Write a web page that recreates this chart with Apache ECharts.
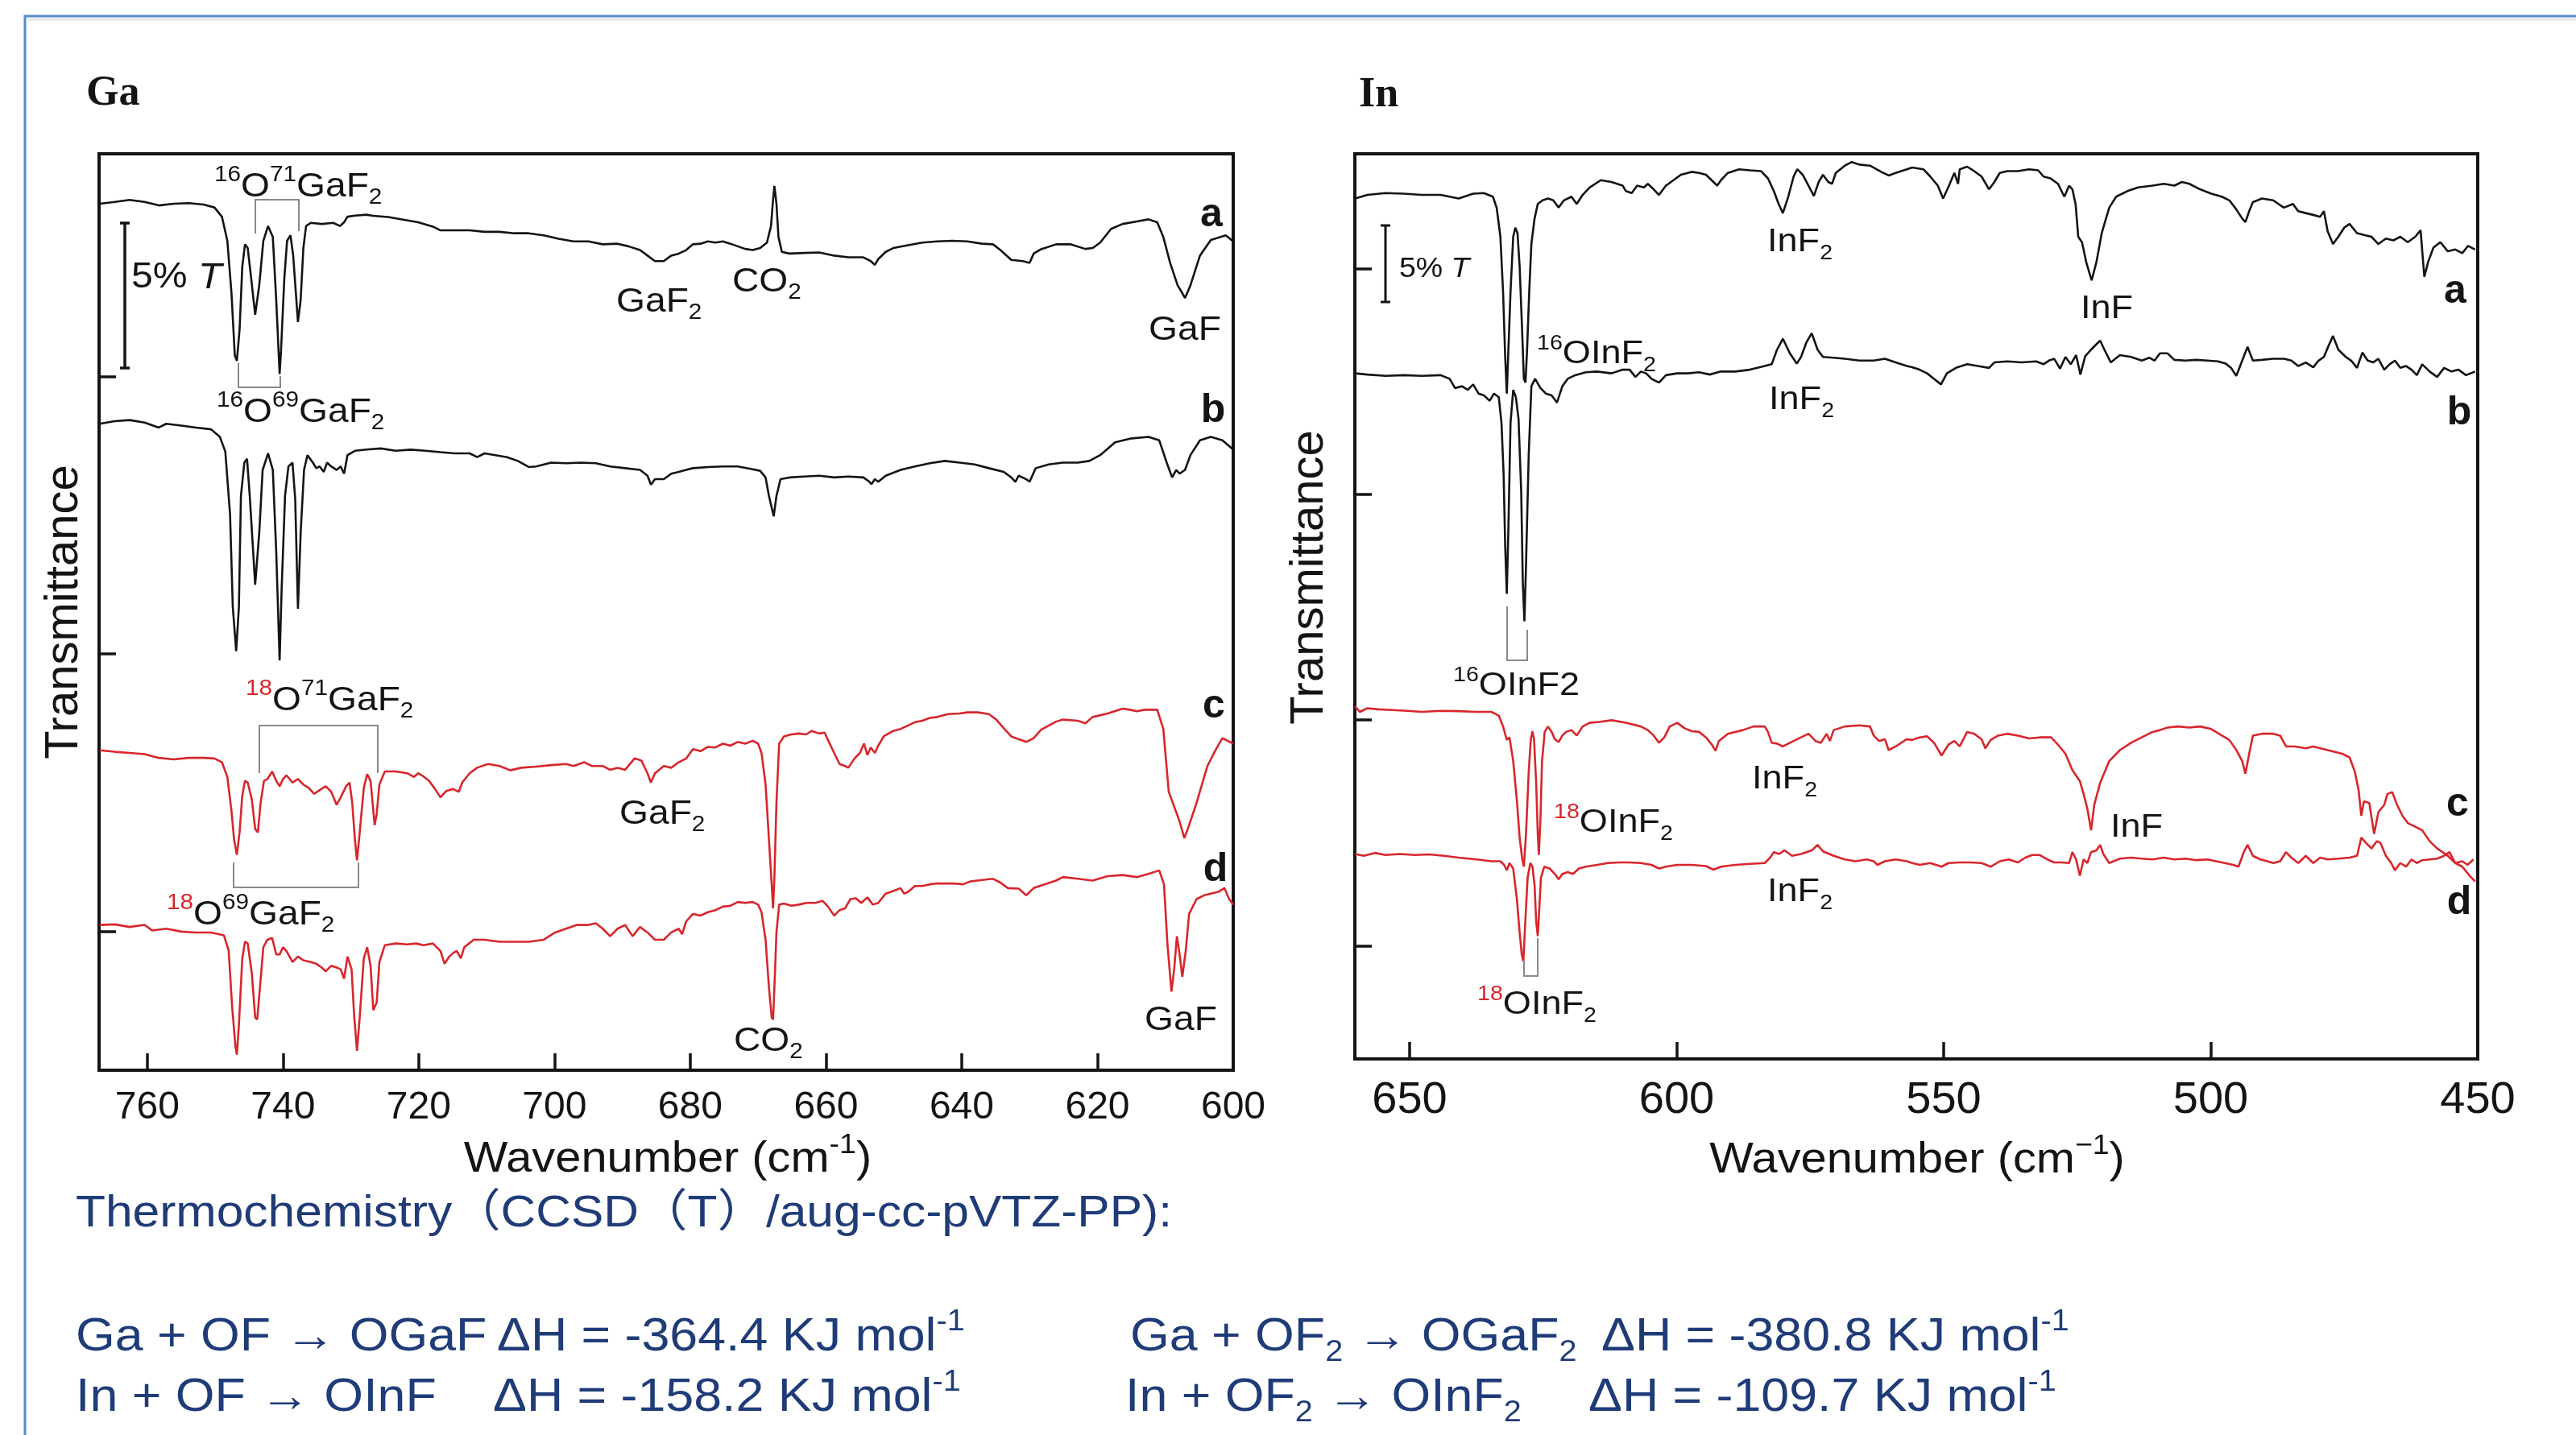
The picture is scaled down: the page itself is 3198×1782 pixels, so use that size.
<!DOCTYPE html>
<html><head><meta charset="utf-8">
<script src="https://cdn.jsdelivr.net/npm/echarts@6/dist/echarts.min.js"></script>
<style>html,body{margin:0;padding:0;background:#fff;}#c{width:3198px;height:1782px;}</style>
</head><body><div id="c"></div>
<script>
// ---------- DATA (wavenumber cm-1, transmittance %T, offset per trace) ----------
const gaXTicks = [600,620,640,660,680,700,720,740,760];
const inXTicks = [450,500,550,600,650];
const gaYTicks = [4.78,14.35,23.92];
const inYTicks = [7.43,22.35,37.24,52.12];

const gaA = [[767.0,29.88],[764.8,29.94],[762.6,30.01],[760.4,29.94],[758.3,29.82],[756.1,29.88],[753.9,29.90],[751.7,29.85],[750.1,29.75],[749.0,29.43],[748.2,28.60],[747.6,26.82],[747.1,24.65],[746.8,24.46],[746.4,25.54],[746.0,27.71],[745.6,28.48],[745.2,28.35],[744.7,27.33],[744.1,26.05],[743.5,27.07],[742.9,28.60],[742.2,29.11],[741.5,28.73],[741.0,26.56],[740.5,24.01],[740.3,24.78],[739.8,27.33],[739.4,28.60],[738.9,28.79],[738.5,28.09],[737.8,25.80],[737.4,26.56],[737.0,28.35],[736.6,29.11],[735.9,29.22],[734.3,29.18],[732.6,29.22],[731.6,29.11],[731.0,29.24],[730.5,29.43],[729.4,29.47],[727.7,29.50],[726.7,29.46],[724.5,29.42],[721.8,29.31],[720.1,29.24],[717.9,29.09],[716.8,28.96],[714.7,28.96],[712.5,28.96],[710.3,28.91],[708.1,28.91],[705.9,28.86],[703.8,28.86],[701.6,28.79],[699.4,28.67],[697.2,28.58],[695.0,28.58],[692.9,28.48],[690.7,28.50],[689.1,28.41],[687.4,28.28],[686.3,28.09],[685.2,27.90],[683.9,27.90],[682.8,28.09],[681.7,28.16],[680.6,28.28],[679.6,28.48],[678.5,28.50],[677.4,28.58],[676.3,28.54],[675.2,28.58],[674.1,28.50],[673.0,28.41],[671.9,28.32],[670.8,28.28],[669.7,28.35],[668.7,28.54],[668.1,29.11],[667.8,30.01],[667.6,30.49],[667.3,29.88],[667.0,28.73],[666.5,28.22],[665.4,28.16],[663.2,28.18],[661.0,28.20],[658.8,28.09],[656.7,28.03],[654.5,28.03],[653.4,27.90],[652.8,27.77],[652.3,27.97],[651.2,28.22],[650.1,28.35],[647.9,28.45],[645.8,28.54],[643.6,28.58],[641.4,28.60],[639.2,28.58],[637.0,28.50],[635.4,28.48],[634.3,28.28],[632.7,27.94],[631.0,27.90],[630.0,27.84],[629.4,28.16],[628.3,28.31],[626.1,28.48],[624.0,28.48],[621.8,28.32],[620.7,28.35],[619.6,28.54],[618.0,29.01],[616.3,29.18],[614.2,29.27],[612.5,29.34],[611.2,29.24],[610.3,28.73],[609.3,27.84],[608.2,27.07],[607.1,26.63],[606.3,27.07],[604.9,28.09],[603.3,28.63],[601.1,28.79],[600.0,28.58]];

const gaB = [[767.0,22.29],[764.8,22.38],[762.6,22.42],[760.4,22.33],[758.3,22.16],[757.2,22.29],[755.0,22.23],[752.8,22.16],[750.6,22.10],[749.3,21.84],[748.5,21.33],[747.8,19.16],[747.4,15.98],[746.9,14.45],[746.5,15.98],[746.2,19.80],[745.7,20.95],[745.3,21.08],[744.9,19.80],[744.1,16.74],[743.5,18.53],[743.0,20.70],[742.2,21.27],[741.5,20.70],[741.0,17.89],[740.5,14.13],[740.2,16.61],[739.7,19.80],[739.2,20.82],[738.6,20.95],[738.2,19.68],[737.8,15.91],[737.4,18.53],[736.9,20.70],[736.4,21.21],[735.6,20.95],[735.1,20.76],[734.6,20.82],[734.0,20.63],[733.5,20.95],[732.9,20.82],[732.1,20.70],[731.5,20.82],[731.0,20.57],[730.5,21.21],[729.4,21.36],[727.7,21.40],[725.6,21.44],[723.4,21.36],[721.2,21.40],[719.0,21.36],[716.8,21.31],[714.7,21.27],[712.5,21.27],[711.4,21.14],[710.3,21.27],[708.7,21.21],[707.0,21.14],[705.4,21.01],[703.8,20.80],[702.7,20.82],[700.5,20.95],[698.3,20.93],[696.1,20.95],[693.9,20.93],[691.8,20.82],[689.6,20.76],[687.4,20.70],[686.3,20.50],[685.8,20.19],[685.2,20.38],[683.9,20.38],[682.8,20.57],[681.7,20.63],[680.6,20.70],[679.6,20.76],[677.4,20.80],[675.2,20.82],[673.0,20.82],[670.8,20.72],[669.7,20.67],[668.9,20.44],[668.4,19.80],[667.7,19.10],[667.3,19.80],[666.7,20.38],[665.4,20.44],[663.2,20.47],[661.0,20.50],[658.8,20.44],[656.7,20.47],[654.5,20.44],[653.7,20.31],[653.3,20.21],[652.8,20.38],[652.3,20.29],[651.2,20.50],[649.0,20.70],[646.9,20.82],[644.7,20.93],[642.5,21.01],[640.3,20.95],[638.1,20.89],[636.0,20.76],[633.8,20.63],[632.7,20.44],[632.1,20.29],[631.6,20.50],[630.5,20.38],[630.0,20.29],[629.1,20.76],[627.2,20.89],[625.1,20.95],[622.9,20.95],[621.2,21.01],[619.6,21.21],[617.4,21.65],[615.2,21.78],[612.5,21.84],[610.9,21.72],[609.8,20.95],[609.0,20.44],[608.4,20.70],[607.9,20.57],[607.1,20.70],[606.3,21.21],[604.9,21.72],[603.3,21.84],[601.6,21.72],[600.0,21.40]];

const gaC = [[767.0,11.03],[764.8,10.98],[762.6,10.94],[760.4,10.90],[758.3,10.77],[756.1,10.72],[753.9,10.77],[751.7,10.77],[750.1,10.75],[749.0,10.62],[748.2,10.11],[747.6,8.96],[747.2,7.94],[746.8,7.43],[746.4,8.20],[746.0,9.47],[745.6,9.98],[745.2,9.92],[744.6,9.34],[744.1,8.32],[743.7,8.20],[743.3,9.22],[742.8,9.98],[742.3,10.04],[741.6,10.30],[741.0,9.98],[740.5,9.79],[740.0,10.04],[739.5,10.17],[738.6,9.92],[737.8,10.04],[737.0,9.85],[736.2,9.73],[735.4,9.53],[734.6,9.66],[733.7,9.79],[732.9,9.60],[732.1,9.15],[731.5,9.41],[730.7,9.79],[730.2,9.92],[729.8,9.22],[729.4,7.94],[729.1,7.24],[728.7,8.20],[728.1,9.73],[727.6,10.21],[727.1,9.98],[726.5,8.45],[726.2,8.83],[725.8,9.85],[725.0,10.30],[723.4,10.30],[721.7,10.24],[720.7,10.11],[720.1,10.24],[719.3,10.13],[718.5,9.98],[717.7,9.73],[716.8,9.41],[716.0,9.62],[715.0,9.70],[714.1,9.60],[713.6,9.92],[712.5,10.24],[711.4,10.43],[709.8,10.56],[708.1,10.49],[706.5,10.34],[704.9,10.43],[702.7,10.47],[700.5,10.52],[698.3,10.56],[697.2,10.49],[695.6,10.62],[694.5,10.49],[692.9,10.49],[691.8,10.36],[690.7,10.43],[689.6,10.36],[688.2,10.75],[687.2,10.68],[686.3,10.24],[685.8,9.92],[685.2,10.24],[683.9,10.49],[682.8,10.43],[681.7,10.62],[680.6,10.75],[679.6,11.07],[678.5,11.00],[677.4,11.15],[676.3,11.13],[675.2,11.26],[674.1,11.19],[673.0,11.32],[671.9,11.26],[670.8,11.36],[670.0,11.26],[669.5,10.94],[668.9,9.85],[668.4,7.94],[668.0,6.41],[667.8,5.58],[667.6,6.66],[667.3,9.22],[666.9,11.26],[666.2,11.51],[665.1,11.58],[664.0,11.61],[662.9,11.58],[662.1,11.70],[661.0,11.61],[660.2,11.64],[659.7,11.38],[658.8,10.94],[658.0,10.56],[657.2,10.49],[656.7,10.43],[655.8,10.75],[655.0,10.94],[654.4,11.26],[653.9,10.87],[653.4,11.13],[652.8,10.94],[652.3,11.19],[651.5,11.51],[650.1,11.70],[649.0,11.77],[647.9,11.89],[646.9,12.00],[645.8,12.05],[644.7,12.15],[643.6,12.18],[642.0,12.28],[640.3,12.30],[639.2,12.34],[637.6,12.34],[636.0,12.28],[634.9,12.09],[633.8,11.79],[632.7,11.51],[631.6,11.41],[630.5,11.32],[629.4,11.45],[628.3,11.74],[626.1,12.02],[625.1,12.09],[622.9,12.05],[621.8,11.96],[620.7,12.18],[618.5,12.30],[616.3,12.47],[615.2,12.43],[614.2,12.38],[613.1,12.43],[611.2,12.43],[610.3,11.77],[609.5,9.60],[608.7,9.09],[607.9,8.58],[607.2,8.00],[606.5,8.45],[605.4,9.22],[603.8,10.49],[602.7,11.00],[601.6,11.45],[600.0,11.26]];

const gaD = [[767.0,5.01],[764.8,5.03],[762.6,4.94],[760.4,5.01],[759.3,4.82],[757.2,4.88],[755.0,4.78],[752.8,4.75],[750.6,4.75],[748.7,4.65],[748.0,4.11],[747.5,2.20],[747.0,0.80],[746.8,0.54],[746.5,1.56],[746.0,3.86],[745.6,4.43],[745.2,4.37],[744.6,3.35],[744.1,1.82],[743.8,1.75],[743.4,2.84],[742.9,4.24],[742.3,4.50],[741.6,4.56],[741.0,3.99],[740.5,3.99],[740.0,4.24],[739.5,4.11],[738.6,3.73],[737.8,3.92],[737.0,3.79],[735.9,3.73],[735.1,3.67],[734.3,3.54],[733.7,3.41],[732.9,3.60],[732.1,3.54],[731.5,3.48],[731.0,3.16],[730.5,3.92],[729.9,3.48],[729.5,1.82],[729.1,0.67],[728.7,1.82],[728.1,3.86],[727.6,4.24],[727.1,3.60],[726.7,2.07],[726.2,2.33],[725.8,3.73],[725.0,4.31],[723.4,4.37],[721.7,4.34],[720.4,4.37],[719.3,4.31],[717.9,4.37],[716.8,4.11],[716.2,3.67],[715.5,3.92],[714.9,4.05],[714.4,4.11],[713.8,3.86],[713.3,4.24],[711.9,4.50],[710.3,4.50],[708.1,4.43],[705.9,4.43],[703.8,4.43],[701.6,4.50],[699.9,4.75],[698.3,4.88],[696.7,5.01],[695.0,5.01],[693.9,5.07],[692.9,4.88],[691.8,4.62],[690.7,4.88],[689.6,5.01],[688.5,4.62],[687.4,4.94],[686.3,4.75],[685.2,4.50],[683.9,4.50],[682.8,4.75],[681.7,4.88],[681.2,4.69],[680.6,5.13],[679.6,5.39],[678.5,5.33],[677.4,5.45],[676.3,5.52],[675.2,5.64],[674.1,5.67],[673.0,5.80],[671.9,5.77],[670.8,5.80],[670.0,5.71],[669.5,5.45],[668.9,4.50],[668.4,2.84],[668.0,1.82],[667.8,1.75],[667.6,2.84],[667.3,4.75],[666.9,5.71],[666.2,5.75],[665.1,5.67],[664.0,5.71],[662.9,5.77],[661.6,5.77],[660.5,5.84],[659.7,5.64],[658.8,5.33],[658.0,5.52],[657.2,5.58],[656.4,5.90],[655.6,5.93],[654.8,5.77],[653.9,5.96],[653.1,5.71],[652.3,5.77],[651.2,6.09],[650.1,6.18],[649.0,6.28],[648.5,6.09],[647.9,6.15],[646.9,6.35],[645.8,6.35],[644.7,6.41],[643.6,6.44],[641.4,6.44],[639.8,6.41],[638.7,6.51],[637.0,6.56],[635.4,6.60],[634.3,6.47],[633.2,6.28],[631.6,6.26],[630.5,6.03],[629.4,6.28],[627.8,6.41],[626.1,6.54],[625.1,6.66],[622.9,6.60],[620.7,6.54],[618.5,6.69],[616.3,6.73],[614.2,6.66],[612.5,6.77],[610.9,6.89],[610.2,6.41],[609.7,4.37],[609.1,2.71],[608.7,3.48],[608.3,4.62],[607.9,3.99],[607.5,3.22],[607.0,4.11],[606.5,5.39],[605.4,5.90],[604.3,6.03],[603.3,6.09],[602.2,6.15],[601.3,6.28],[600.6,5.90],[600.0,5.71]];

const inA = [[660.2,56.75],[657.9,56.99],[654.5,57.11],[651.1,57.07],[647.7,56.99],[644.2,56.99],[640.8,56.75],[638.1,57.07],[636.1,57.11],[634.4,56.87],[633.7,56.15],[633.0,54.23],[632.5,50.62],[632.1,46.30],[631.8,43.89],[631.6,45.82],[631.1,50.62],[630.6,54.23],[630.2,54.83],[629.8,54.47],[629.4,52.31],[629.0,48.70],[628.6,44.86],[628.3,44.61],[628.0,46.78],[627.6,50.62],[627.2,53.75],[626.6,55.43],[626.0,56.39],[625.1,56.63],[624.1,56.75],[623.1,56.63],[622.1,56.15],[621.1,56.63],[619.7,56.87],[618.7,56.39],[617.6,56.99],[616.3,57.48],[614.2,57.96],[612.2,57.84],[610.1,57.60],[609.5,57.24],[608.4,57.11],[607.4,57.60],[606.1,57.48],[605.4,57.72],[604.3,57.36],[603.3,56.99],[602.0,57.60],[600.6,57.96],[599.2,58.32],[597.2,58.51],[595.8,58.44],[594.5,58.32],[593.1,57.84],[592.4,57.60],[591.7,57.96],[590.4,58.44],[588.3,58.68],[586.3,58.61],[584.2,58.56],[582.9,58.08],[581.8,57.24],[580.9,56.39],[580.1,55.79],[579.1,56.87],[578.1,58.20],[577.4,58.68],[576.4,58.32],[575.3,57.60],[574.3,56.92],[573.4,57.84],[572.6,58.32],[571.6,57.84],[570.9,57.72],[570.2,58.44],[568.5,58.92],[567.2,59.16],[565.8,58.99],[563.8,58.92],[561.7,58.51],[560.3,58.27],[559.0,58.44],[556.9,58.68],[555.9,58.80],[553.8,58.68],[552.5,58.20],[551.1,57.60],[550.1,56.75],[549.0,57.60],[548.0,58.44],[547.3,57.72],[547.0,58.68],[545.6,58.85],[544.3,58.56],[542.9,58.20],[541.5,57.36],[540.5,57.84],[539.5,58.44],[538.1,58.56],[536.1,58.56],[534.0,58.68],[532.3,58.61],[531.3,58.20],[530.0,58.08],[528.6,57.72],[527.4,56.87],[526.5,57.60],[525.9,57.36],[525.3,56.39],[524.8,54.23],[524.1,53.87],[523.3,52.55],[522.3,51.35],[521.4,52.55],[520.4,54.47],[519.0,56.15],[517.7,56.87],[515.6,57.24],[513.6,57.48],[510.9,57.60],[508.8,57.72],[506.8,57.60],[505.4,57.84],[504.0,57.72],[502.0,57.36],[499.9,57.07],[497.9,56.87],[496.5,56.63],[495.2,56.03],[494.1,55.43],[493.5,55.19],[492.8,55.91],[492.1,56.51],[490.4,56.75],[488.3,56.63],[486.3,56.15],[484.6,56.39],[483.6,55.91],[482.2,55.79],[480.8,55.67],[479.5,55.55],[478.8,55.91],[478.1,54.59],[477.1,53.75],[476.1,54.23],[475.0,54.83],[474.0,55.07],[472.6,54.47],[471.3,54.35],[469.9,54.23],[468.6,53.75],[467.2,54.11],[465.8,53.99],[464.5,54.23],[463.1,53.87],[461.7,54.23],[460.7,54.66],[460.0,51.59],[459.3,52.55],[458.3,53.51],[457.0,53.87],[455.6,53.27],[454.2,53.39],[452.9,53.15],[451.8,53.63],[450.5,53.39]];

const inB = [[660.2,45.22],[657.9,45.14],[654.5,45.05],[651.1,45.10],[647.7,45.05],[644.2,45.10],[642.5,44.86],[641.5,44.25],[640.2,44.37],[639.1,44.13],[638.1,44.49],[637.1,43.89],[636.1,43.77],[635.0,43.41],[634.2,43.89],[633.3,43.65],[632.8,41.97],[632.4,38.61],[632.1,33.80],[631.8,30.67],[631.5,35.00],[631.1,41.97],[630.6,44.13],[630.1,43.65],[629.6,42.21],[629.1,37.40],[628.8,31.39],[628.5,28.87],[628.2,32.60],[627.7,39.81],[627.2,44.37],[626.5,44.86],[625.5,44.25],[624.5,43.89],[623.4,43.77],[622.4,43.29],[621.4,44.37],[620.4,44.86],[619.0,45.10],[617.0,45.29],[614.9,45.34],[612.2,45.22],[610.1,45.46],[608.8,45.46],[607.7,44.98],[606.7,45.34],[605.7,45.22],[604.7,44.86],[603.3,44.61],[602.0,45.10],[599.9,45.22],[597.9,45.22],[595.8,45.29],[593.8,45.14],[591.7,45.34],[589.0,45.34],[586.3,45.46],[583.5,45.70],[582.2,45.82],[581.2,46.78],[580.1,47.50],[578.8,46.54],[577.5,45.86],[576.7,46.30],[575.7,47.26],[574.7,47.86],[573.6,46.78],[572.6,46.30],[570.6,46.25],[568.5,46.18],[565.8,46.06],[563.1,46.06],[561.0,46.18],[559.0,45.94],[556.9,45.70],[555.9,45.62],[554.5,45.46],[553.1,45.22],[551.8,44.86],[550.5,44.49],[549.4,45.22],[547.7,45.58],[545.6,45.82],[543.6,45.70],[541.5,45.58],[540.5,45.94],[538.1,46.01],[535.4,45.94],[532.7,46.01],[531.3,45.82],[530.3,46.06],[529.3,46.18],[528.2,45.53],[527.2,46.30],[526.2,45.82],[525.2,46.42],[524.4,45.14],[523.5,46.35],[522.4,46.78],[521.4,47.14],[520.7,47.38],[519.9,46.78],[518.7,45.94],[517.0,46.42],[514.9,46.30],[512.9,46.06],[511.5,46.25],[510.5,46.06],[509.5,46.54],[508.1,46.54],[506.8,46.11],[504.7,46.06],[502.7,46.11],[500.6,46.06],[498.6,46.01],[497.2,45.86],[496.2,45.58],[495.2,45.05],[494.1,46.06],[493.1,46.97],[492.1,46.06],[490.4,46.11],[488.3,46.18],[486.3,46.18],[484.9,46.06],[483.6,45.70],[482.2,45.94],[480.8,45.62],[479.8,46.06],[478.8,46.30],[478.1,46.90],[477.1,47.69],[476.1,46.78],[474.7,46.30],[473.7,46.06],[472.6,45.58],[471.6,46.59],[470.6,46.06],[469.6,45.94],[468.6,46.18],[467.5,45.46],[466.5,45.82],[465.5,46.06],[464.5,45.58],[463.4,45.70],[462.4,45.46],[461.4,45.10],[460.4,45.82],[459.0,45.34],[457.6,44.98],[456.3,45.58],[454.9,45.34],[453.6,45.46],[452.2,45.10],[450.5,45.34]];

const inC = [[660.2,23.25],[659.3,22.89],[657.9,23.13],[655.8,23.06],[653.1,23.01],[650.4,22.96],[647.7,22.89],[644.2,22.96],[640.8,22.94],[637.4,22.89],[634.7,22.89],[633.3,22.65],[632.5,21.93],[631.8,21.04],[631.3,21.21],[630.6,19.65],[629.9,17.00],[629.4,14.60],[628.9,13.16],[628.6,12.68],[628.2,14.84],[627.7,18.93],[627.3,21.09],[627.0,21.62],[626.7,21.09],[626.3,18.21],[626.0,14.84],[625.8,13.45],[625.5,15.80],[625.2,19.65],[624.7,21.57],[624.1,21.93],[623.4,21.57],[622.8,21.09],[622.1,20.90],[621.4,21.33],[620.7,21.57],[619.7,21.69],[618.7,21.33],[617.6,21.93],[616.3,22.17],[614.2,22.24],[612.2,22.34],[609.5,22.17],[606.7,21.93],[605.4,21.69],[604.3,21.33],[603.3,20.85],[602.3,21.21],[601.3,21.93],[599.9,22.17],[598.5,21.81],[597.2,21.62],[595.8,21.57],[594.5,21.21],[593.4,20.73],[592.7,20.32],[592.1,20.97],[590.4,21.45],[587.6,21.69],[585.6,21.93],[583.5,21.93],[582.9,21.57],[582.2,20.85],[581.2,20.80],[580.1,20.61],[578.8,20.85],[577.4,21.09],[575.3,21.45],[574.0,20.97],[573.0,20.85],[571.9,21.45],[571.3,20.97],[570.6,21.69],[568.5,21.93],[565.8,22.00],[563.8,21.93],[563.1,21.33],[562.1,20.97],[561.0,21.09],[560.3,20.37],[559.0,20.61],[556.9,21.09],[555.9,21.04],[554.5,21.21],[553.1,21.28],[551.8,20.85],[550.4,20.01],[549.1,20.73],[548.0,20.97],[547.0,20.61],[545.6,21.57],[544.3,21.45],[542.9,21.09],[542.2,20.49],[541.2,21.04],[539.8,21.33],[538.1,21.45],[536.1,21.33],[534.0,21.14],[532.0,21.21],[529.9,21.21],[528.6,20.73],[527.2,20.13],[525.9,19.05],[524.5,18.33],[523.8,17.48],[523.1,16.52],[522.4,15.08],[521.8,16.76],[520.7,18.21],[519.0,19.65],[517.0,20.37],[514.9,20.85],[512.9,21.21],[510.9,21.57],[509.5,21.69],[508.1,21.86],[506.1,21.93],[504.0,21.86],[502.0,21.93],[499.9,21.76],[497.9,21.33],[496.5,21.04],[495.2,20.37],[494.1,19.65],[493.5,18.81],[492.8,20.13],[492.1,21.33],[490.4,21.45],[488.3,21.45],[487.0,21.33],[485.9,20.61],[484.2,20.61],[482.2,20.49],[480.8,20.61],[478.1,20.37],[475.4,20.13],[474.0,19.89],[473.0,18.93],[472.3,17.72],[471.8,16.04],[471.3,17.00],[470.3,16.88],[469.4,14.84],[468.6,16.28],[467.5,16.76],[466.9,17.48],[466.0,17.60],[465.1,16.76],[464.1,16.04],[463.1,15.56],[461.7,15.32],[460.4,15.08],[459.0,14.36],[457.6,13.88],[456.6,13.64],[455.6,13.40],[454.2,12.92],[452.9,12.68],[451.5,12.08],[450.5,11.71]];

const inD = [[660.2,13.52],[658.6,13.40],[656.5,13.59],[654.5,13.45],[651.8,13.52],[649.0,13.45],[646.3,13.49],[643.6,13.40],[640.8,13.28],[637.4,13.16],[634.7,13.04],[633.0,13.04],[632.3,12.80],[631.8,12.44],[631.3,12.92],[630.6,12.56],[629.9,10.51],[629.4,8.35],[629.0,6.91],[628.7,6.43],[628.4,8.59],[627.9,11.96],[627.4,12.92],[627.0,12.68],[626.6,11.47],[626.3,9.07],[626.0,8.11],[625.7,10.03],[625.4,11.96],[624.8,12.68],[623.8,12.56],[622.8,12.20],[622.1,11.84],[621.4,12.20],[620.4,12.32],[619.4,12.20],[618.3,12.56],[617.0,12.68],[614.9,12.80],[612.9,12.92],[610.8,12.96],[608.8,12.96],[606.7,12.92],[604.7,12.80],[603.3,12.56],[602.0,12.68],[599.9,12.80],[597.2,12.80],[594.5,12.72],[593.1,12.48],[591.7,12.68],[589.0,12.80],[586.3,12.87],[583.5,12.92],[582.5,13.28],[581.8,13.64],[580.8,13.52],[579.8,13.76],[578.4,13.40],[576.7,13.52],[574.7,13.76],[573.6,14.12],[572.6,13.69],[570.6,13.40],[568.5,13.16],[566.5,13.04],[564.4,13.16],[563.1,13.04],[562.4,12.80],[561.0,13.04],[559.0,13.16],[556.9,13.04],[555.9,12.92],[554.5,12.80],[552.5,12.92],[550.4,12.68],[549.1,12.92],[547.0,12.96],[545.0,12.96],[542.9,12.92],[541.2,12.68],[539.5,13.04],[537.8,13.16],[536.1,12.96],[534.7,13.28],[533.4,13.45],[532.0,13.45],[530.6,13.16],[529.3,12.96],[527.9,12.96],[526.5,12.92],[525.9,13.64],[525.2,13.16],[524.5,12.08],[523.8,13.16],[523.1,12.92],[522.4,13.64],[521.4,13.76],[520.7,14.12],[520.1,13.52],[519.0,12.92],[517.0,13.21],[514.9,13.28],[512.9,13.21],[510.9,13.16],[508.8,13.28],[506.8,13.16],[504.7,13.21],[502.7,13.11],[500.6,13.16],[497.9,12.96],[495.8,12.80],[494.8,12.68],[493.8,13.64],[493.1,14.12],[492.1,13.40],[490.7,13.16],[489.4,13.04],[488.3,12.92],[487.0,13.04],[485.9,13.64],[484.9,13.28],[483.6,12.92],[482.2,13.40],[480.8,12.92],[479.5,13.28],[478.1,13.16],[476.1,13.21],[474.0,13.28],[472.6,13.40],[471.8,14.60],[470.9,14.24],[469.9,13.88],[468.9,14.36],[468.2,14.24],[467.2,13.40],[466.2,12.92],[465.5,12.44],[464.5,12.92],[463.4,12.68],[462.4,13.16],[461.4,12.92],[460.4,13.11],[459.0,13.16],[457.6,13.21],[456.3,13.40],[455.3,13.64],[454.2,12.92],[452.9,13.04],[451.9,12.80],[450.8,13.16]];

// ---------- STYLE ----------
const SANS = '"Liberation Sans", Arial, "Noto Sans CJK SC", sans-serif';
const SERIF = '"Liberation Serif", "Times New Roman", serif';
const INK = '#141414';
const RED = '#d8262c';
const NAVY = '#1f3b78';

function rt(x, y, text, o) {
  o = o || {};
  const fs = o.size || 42;
  const ss = Math.round(fs * 0.64);
  const col = o.color || INK;
  const lh = Math.round(fs * 1.3);
  return {
    type: 'text', x: x, y: y, scaleX: o.sx || 1, rotation: o.rot || 0, z: 100, silent: true,
    style: {
      text: text, fill: col,
      font: (o.weight || 'normal') + ' ' + fs + 'px ' + (o.family || SANS),
      lineHeight: lh,
      align: o.align || 'left', verticalAlign: 'middle',
      textAlign: o.align || 'left', textVerticalAlign: 'middle',
      rich: {
        sup: {fontSize: ss, fontFamily: o.family || SANS, verticalAlign: 'top', lineHeight: ss + 2, fill: col, color: col},
        sub: {fontSize: ss, fontFamily: o.family || SANS, verticalAlign: 'bottom', lineHeight: ss + 2, fill: col, color: col},
        rs: {fontSize: ss, fontFamily: o.family || SANS, verticalAlign: 'top', lineHeight: ss + 2, fill: RED, color: RED},
        it: {fontSize: fs, fontFamily: o.family || SANS, fontStyle: 'italic', lineHeight: lh, fill: col, color: col}
      }
    }
  };
}
function pl(points, color, w) {
  return {type: 'polyline', z: 90, silent: true, shape: {points: points}, style: {stroke: color, lineWidth: w, fill: null}};
}

const ga = {size: 42, sx: 1.1};
const inn = {size: 41, sx: 1.1};
const bold = (x, y, t) => rt(x, y, t, {size: 50, weight: 'bold', align: 'center'});
const thermo = (x, y, t) => rt(x, y, t, {size: 57, sx: 1.1, color: NAVY});

const elements = [
  // slide frame
  pl([[31, 1782], [31, 20], [3198, 20]], '#5b89c9', 3),
  pl([[34, 24], [3198, 24]], '#e2e6ec', 3),
  // panel titles
  rt(107, 117, 'Ga', {size: 52, weight: 'bold', family: SERIF}),
  rt(1687, 119, 'In', {size: 52, weight: 'bold', family: SERIF}),
  // y titles
  rt(80, 760, 'Transmittance', {size: 58, align: 'center', rot: Math.PI / 2}),
  rt(1626, 717, 'Transmittance', {size: 58, align: 'center', rot: Math.PI / 2}),
  // x titles
  rt(829, 1440, 'Wavenumber (cm{sup|-1})', {size: 54, sx: 1.07, align: 'center'}),
  rt(2380, 1441, 'Wavenumber (cm{sup|\u22121})', {size: 54, sx: 1.07, align: 'center'}),
  // scale bars
  pl([[155, 277], [155, 457]], INK, 3.5), pl([[149, 277], [161, 277]], INK, 3.5), pl([[149, 457], [161, 457]], INK, 3.5),
  rt(163, 345, '5% {it|T}', {size: 45, sx: 1.07}),
  pl([[1720, 280], [1720, 375]], INK, 3), pl([[1714, 280], [1726, 280]], INK, 3), pl([[1714, 375], [1726, 375]], INK, 3),
  rt(1737, 334, '5% {it|T}', {size: 35, sx: 1.07}),
  // Ga brackets
  pl([[317, 290], [317, 248], [371, 248], [371, 287]], '#8a8a8a', 2),
  pl([[296, 451], [296, 481], [348, 481], [348, 467]], '#8a8a8a', 2),
  pl([[322, 960], [322, 901], [469, 901], [469, 960]], '#8a8a8a', 2),
  pl([[290, 1071], [290, 1102], [445, 1102], [445, 1071]], '#8a8a8a', 2),
  // In brackets
  pl([[1871, 753], [1871, 820], [1896, 820], [1896, 782]], '#8a8a8a', 2),
  pl([[1892, 1192], [1892, 1212], [1909, 1212], [1909, 1165]], '#8a8a8a', 2),
  // Ga labels
  rt(266, 232, '{sup|16}O{sup|71}GaF{sub|2}', ga),
  rt(269, 512, '{sup|16}O{sup|69}GaF{sub|2}', ga),
  rt(765, 375, 'GaF{sub|2}', ga),
  rt(909, 350, 'CO{sub|2}', ga),
  rt(1426, 410, 'GaF', ga),
  rt(305, 870, '{rs|18}O{sup|71}GaF{sub|2}', ga),
  rt(207, 1136, '{rs|18}O{sup|69}GaF{sub|2}', ga),
  rt(769, 1011, 'GaF{sub|2}', ga),
  rt(911, 1293, 'CO{sub|2}', ga),
  rt(1421, 1267, 'GaF', ga),
  bold(1504, 267, 'a'), bold(1506, 510, 'b'), bold(1507, 877, 'c'), bold(1509, 1080, 'd'),
  // In labels
  rt(2194, 301, 'InF{sub|2}', inn),
  rt(2583, 384, 'InF', inn),
  rt(1908, 440, '{sup|16}OInF{sub|2}', inn),
  rt(2196, 497, 'InF{sub|2}', inn),
  rt(1804, 852, '{sup|16}OInF2', inn),
  rt(2175, 968, 'InF{sub|2}', inn),
  rt(1929, 1022, '{rs|18}OInF{sub|2}', inn),
  rt(2620, 1028, 'InF', inn),
  rt(2194, 1108, 'InF{sub|2}', inn),
  rt(1834, 1248, '{rs|18}OInF{sub|2}', inn),
  bold(3048, 362, 'a'), bold(3053, 513, 'b'), bold(3051, 999, 'c'), bold(3053, 1121, 'd'),
  // thermochemistry
  rt(94, 1508, 'Thermochemistry\uFF08CCSD\uFF08T\uFF09/aug-cc-pVTZ-PP):', {size: 56, sx: 1.08, color: NAVY}),
  thermo(94, 1661, 'Ga + OF \u2192 OGaF'),
  thermo(617, 1661, '\u0394H = -364.4 KJ mol{sup|-1}'),
  thermo(94, 1736, 'In + OF \u2192 OInF'),
  thermo(612, 1736, '\u0394H = -158.2 KJ mol{sup|-1}'),
  thermo(1403, 1661, 'Ga + OF{sub|2} \u2192 OGaF{sub|2}'),
  thermo(1988, 1661, '\u0394H = -380.8 KJ mol{sup|-1}'),
  thermo(1397, 1736, 'In + OF{sub|2} \u2192 OInF{sub|2}'),
  thermo(1972, 1736, '\u0394H = -109.7 KJ mol{sup|-1}')
];

function xAx(grid, min, max, ticks, fs, margin) {
  return {
    gridIndex: grid, type: 'value', min: min, max: max, inverse: true,
    axisLine: {show: true, lineStyle: {color: INK, width: 4}},
    axisTick: {show: true, inside: true, length: 21, customValues: ticks, lineStyle: {color: INK, width: 3.5}},
    axisLabel: {show: true, customValues: ticks, fontSize: fs, fontFamily: SANS, color: INK, margin: margin},
    splitLine: {show: false}
  };
}
function yAx(grid, max, ticks) {
  return {
    gridIndex: grid, type: 'value', min: 0, max: max,
    axisLine: {show: true, lineStyle: {color: INK, width: 4}},
    axisTick: {show: true, inside: true, length: 21, customValues: ticks, lineStyle: {color: INK, width: 3.5}},
    axisLabel: {show: false}, splitLine: {show: false}
  };
}
function ser(data, xi, color) {
  return {type: 'line', xAxisIndex: xi, yAxisIndex: xi, data: data, showSymbol: false, symbol: 'none',
    lineStyle: {color: color, width: 2.6}, silent: true, animation: false, clip: true};
}

const chart = echarts.init(document.getElementById('c'), null, {renderer: 'canvas'});
chart.setOption({
  animation: false,
  backgroundColor: '#ffffff',
  grid: [
    {left: 123, top: 191, width: 1408, height: 1138, show: true, borderColor: INK, borderWidth: 4, backgroundColor: 'transparent'},
    {left: 1682, top: 191, width: 1394, height: 1124, show: true, borderColor: INK, borderWidth: 4, backgroundColor: 'transparent'}
  ],
  xAxis: [xAx(0, 600, 767.1, gaXTicks, 48, 23), xAx(1, 450, 660.25, inXTicks, 56, 24)],
  yAxis: [yAx(0, 31.6, gaYTicks), yAx(1, 59.7, inYTicks)],
  series: [
    ser(gaA, 0, INK), ser(gaB, 0, INK), ser(gaC, 0, RED), ser(gaD, 0, RED),
    ser(inA, 1, INK), ser(inB, 1, INK), ser(inC, 1, RED), ser(inD, 1, RED)
  ],
  graphic: {elements: elements}
});
</script>
</body></html>
